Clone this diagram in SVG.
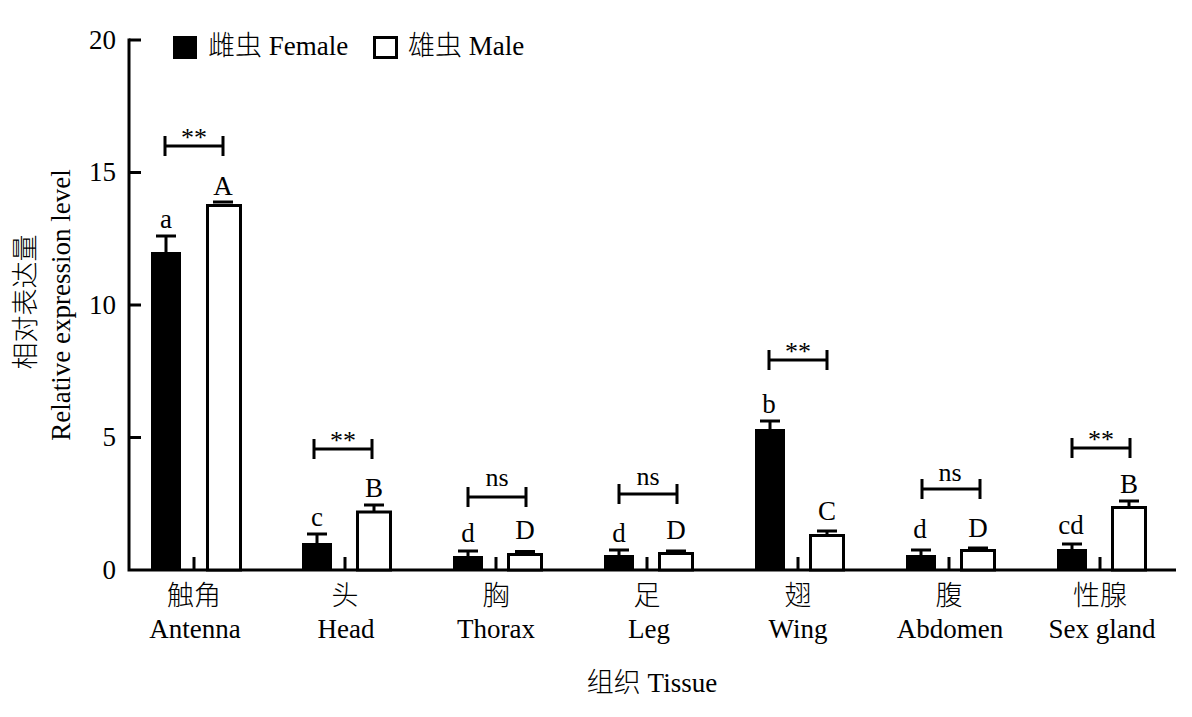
<svg xmlns="http://www.w3.org/2000/svg" width="1192" height="717" viewBox="0 0 1192 717">
<style>
text{font-family:"Liberation Serif","Noto Sans CJK SC",serif;fill:#000;font-weight:300;}
.lab{font-size:27px;}
.tk{font-size:27px;text-anchor:end;}
.mid{text-anchor:middle;}
.ln{stroke:#000;stroke-width:3;fill:none;}
.fb{fill:#000;stroke:none;}
.mb{fill:#fff;stroke:#000;stroke-width:3;}
.sig{font-size:26px;text-anchor:middle;}
.let{font-size:27px;text-anchor:middle;}
</style>
<rect width="1192" height="717" fill="#fff"/>
<g id="axes">
<path class="ln" d="M129,38.5V571.5M127.5,570H1176"/>
<path class="ln" d="M129,40H141M129,172.5H141M129,305H141M129,437.5H141"/>
<text class="tk" x="116" y="49">20</text>
<text class="tk" x="116" y="181">15</text>
<text class="tk" x="116" y="314">10</text>
<text class="tk" x="116" y="446">5</text>
<text class="tk" x="116" y="579">0</text>
<path class="ln" d="M194,557V570M345,557V570M496,557V570M647,557V570M798,557V570M949,557V570M1100,557V570"/>
<text class="lab" transform="translate(35,302) rotate(-90)" text-anchor="middle">相对表达量</text>
<text class="lab" transform="translate(70,305) rotate(-90)" text-anchor="middle">Relative expression level</text>
<text class="lab mid" x="652" y="692">组织 Tissue</text>
</g>
<g id="legend">
<rect x="173" y="36" width="24" height="23" fill="#000"/>
<text class="lab" x="208" y="55">雌虫 Female</text>
<rect x="374.5" y="37.5" width="22" height="20" class="mb"/>
<text class="lab" x="408" y="55">雄虫 Male</text>
</g>
<g id="antenna">
<rect class="fb" x="151" y="252" width="30" height="318"/>
<path class="ln" d="M166,252V236M156,236H176"/>
<rect class="mb" x="207.5" y="205.5" width="33" height="364.5"/>
<path class="ln" d="M213,202H233"/>
<text class="let" x="166" y="228">a</text>
<text class="let" x="223" y="195">A</text>
<path class="ln" d="M165,146H223M165,136V156M223,136V156"/>
<text class="sig" x="194" y="146">**</text>
<text class="lab mid" x="194" y="605">触角</text>
<text class="lab mid" x="195" y="638">Antenna</text>
</g>
<g id="head">
<rect class="fb" x="302" y="543" width="30" height="27"/>
<path class="ln" d="M317,543V534M307,534H327"/>
<rect class="mb" x="357.5" y="512" width="33" height="58"/>
<path class="ln" d="M374,512V505M364,505H384"/>
<text class="let" x="317" y="526">c</text>
<text class="let" x="374" y="497">B</text>
<path class="ln" d="M314,449H372M314,439V459M372,439V459"/>
<text class="sig" x="343" y="449">**</text>
<text class="lab mid" x="345" y="605">头</text>
<text class="lab mid" x="346" y="638">Head</text>
</g>
<g id="thorax">
<rect class="fb" x="453" y="556" width="30" height="14"/>
<path class="ln" d="M468,556V551M458,551H478"/>
<rect class="mb" x="508.5" y="554.5" width="33" height="15.5"/>
<path class="ln" d="M515,551.5H535"/>
<text class="let" x="468" y="542">d</text>
<text class="let" x="525" y="539">D</text>
<path class="ln" d="M468,497H526M468,487V507M526,487V507"/>
<text class="sig" x="497" y="486">ns</text>
<text class="lab mid" x="496" y="605">胸</text>
<text class="lab mid" x="496" y="638">Thorax</text>
</g>
<g id="leg">
<rect class="fb" x="604" y="555" width="30" height="15"/>
<path class="ln" d="M619,555V550M609,550H629"/>
<rect class="mb" x="659.5" y="553.5" width="33" height="16.5"/>
<path class="ln" d="M666,551H686"/>
<text class="let" x="619" y="542">d</text>
<text class="let" x="676" y="539">D</text>
<path class="ln" d="M619,494H677M619,484V504M677,484V504"/>
<text class="sig" x="648" y="485">ns</text>
<text class="lab mid" x="647" y="605">足</text>
<text class="lab mid" x="649" y="638">Leg</text>
</g>
<g id="wing">
<rect class="fb" x="755" y="429" width="30" height="141"/>
<path class="ln" d="M770,429V421M760,421H780"/>
<rect class="mb" x="810.5" y="535.5" width="33" height="34.5"/>
<path class="ln" d="M827,535V531M817,531H837"/>
<text class="let" x="769" y="413">b</text>
<text class="let" x="827" y="520">C</text>
<path class="ln" d="M769,360H827M769,350V370M827,350V370"/>
<text class="sig" x="798" y="360">**</text>
<text class="lab mid" x="798" y="605">翅</text>
<text class="lab mid" x="798" y="638">Wing</text>
</g>
<g id="abdomen">
<rect class="fb" x="906" y="555" width="30" height="15"/>
<path class="ln" d="M921,555V550M911,550H931"/>
<rect class="mb" x="961.5" y="550.5" width="33" height="19.5"/>
<path class="ln" d="M968,548H988"/>
<text class="let" x="920" y="538">d</text>
<text class="let" x="978" y="537">D</text>
<path class="ln" d="M922,489H980M922,479V499M980,479V499"/>
<text class="sig" x="950" y="481">ns</text>
<text class="lab mid" x="949" y="605">腹</text>
<text class="lab mid" x="950" y="638">Abdomen</text>
</g>
<g id="sexgland">
<rect class="fb" x="1057" y="549" width="30" height="21"/>
<path class="ln" d="M1072,549V544M1062,544H1082"/>
<rect class="mb" x="1112.5" y="507.5" width="33" height="62.5"/>
<path class="ln" d="M1129,507V501M1119,501H1139"/>
<text class="let" x="1071" y="534">cd</text>
<text class="let" x="1129" y="493">B</text>
<path class="ln" d="M1072,448H1130M1072,438V458M1130,438V458"/>
<text class="sig" x="1101" y="448">**</text>
<text class="lab mid" x="1100" y="605">性腺</text>
<text class="lab mid" x="1102" y="638">Sex gland</text>
</g>
</svg>
